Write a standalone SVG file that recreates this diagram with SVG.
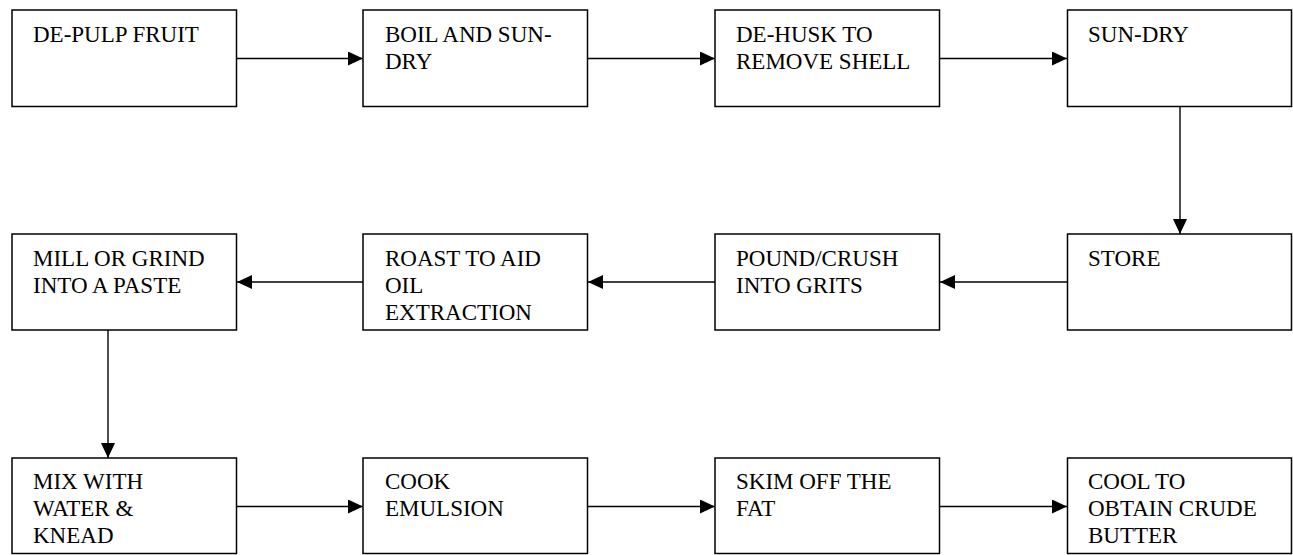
<svg xmlns="http://www.w3.org/2000/svg" width="1293" height="555" viewBox="0 0 1293 555">
<style>
.box{fill:#fff;stroke:#000;stroke-width:1.5}
.lbl{font-family:'Liberation Serif','Times New Roman',Times,'DejaVu Serif',serif;font-size:23px;fill:#000}
.con{stroke:#000;stroke-width:1.4;fill:none;marker-end:url(#ah)}
</style>
<defs>
<marker id="ah" markerUnits="userSpaceOnUse" markerWidth="15" markerHeight="14" refX="15" refY="7" orient="auto">
<path d="M0,0 L15,7 L0,14 z" fill="#000"/>
</marker>
</defs>
<rect width="1293" height="555" fill="#fff"/>
<g id="connectors">
<path class="con" d="M236.5,58.5 H363"/>
<path class="con" d="M587.5,58.5 H715"/>
<path class="con" d="M939.5,58.5 H1067"/>
<path class="con" d="M1180,106.5 V234"/>
<path class="con" d="M1067,282 H940"/>
<path class="con" d="M715,282 H588"/>
<path class="con" d="M363,282 H237"/>
<path class="con" d="M108,330 V458"/>
<path class="con" d="M236.5,506.5 H363"/>
<path class="con" d="M587.5,506.5 H715"/>
<path class="con" d="M939.5,506.5 H1067"/>
</g>
<g id="n1"><rect class="box" x="12" y="10" width="224.5" height="96.5"/><text class="lbl" x="33" y="42">DE-PULP FRUIT</text></g>
<g id="n2"><rect class="box" x="363" y="10" width="224.5" height="96.5"/><text class="lbl" x="385" y="42">BOIL AND SUN-<tspan x="385" dy="27">DRY</tspan></text></g>
<g id="n3"><rect class="box" x="715" y="10" width="224.5" height="96.5"/><text class="lbl" x="736" y="42">DE-HUSK TO<tspan x="736" dy="27">REMOVE SHELL</tspan></text></g>
<g id="n4"><rect class="box" x="1067.5" y="10" width="224" height="96.5"/><text class="lbl" x="1088" y="42">SUN-DRY</text></g>
<g id="n5"><rect class="box" x="1067.5" y="234" width="224" height="96"/><text class="lbl" x="1088" y="265.5">STORE</text></g>
<g id="n6"><rect class="box" x="715" y="234" width="224.5" height="96"/><text class="lbl" x="736" y="265.5">POUND/CRUSH<tspan x="736" dy="27">INTO GRITS</tspan></text></g>
<g id="n7"><rect class="box" x="363" y="234" width="224.5" height="96"/><text class="lbl" x="385" y="265.5">ROAST TO AID<tspan x="385" dy="27">OIL</tspan><tspan x="385" dy="27">EXTRACTION</tspan></text></g>
<g id="n8"><rect class="box" x="12" y="234" width="224.5" height="96"/><text class="lbl" x="33" y="265.5">MILL OR GRIND<tspan x="33" dy="27">INTO A PASTE</tspan></text></g>
<g id="n9"><rect class="box" x="12" y="458" width="224.5" height="95.5"/><text class="lbl" x="33" y="489">MIX WITH<tspan x="33" dy="27">WATER &amp;</tspan><tspan x="33" dy="27">KNEAD</tspan></text></g>
<g id="n10"><rect class="box" x="363" y="458" width="224.5" height="95.5"/><text class="lbl" x="385" y="489">COOK<tspan x="385" dy="27">EMULSION</tspan></text></g>
<g id="n11"><rect class="box" x="715" y="458" width="224.5" height="95.5"/><text class="lbl" x="736" y="489">SKIM OFF THE<tspan x="736" dy="27">FAT</tspan></text></g>
<g id="n12"><rect class="box" x="1067.5" y="458" width="224" height="95.5"/><text class="lbl" x="1088" y="489">COOL TO<tspan x="1088" dy="27">OBTAIN CRUDE</tspan><tspan x="1088" dy="27">BUTTER</tspan></text></g>
</svg>
